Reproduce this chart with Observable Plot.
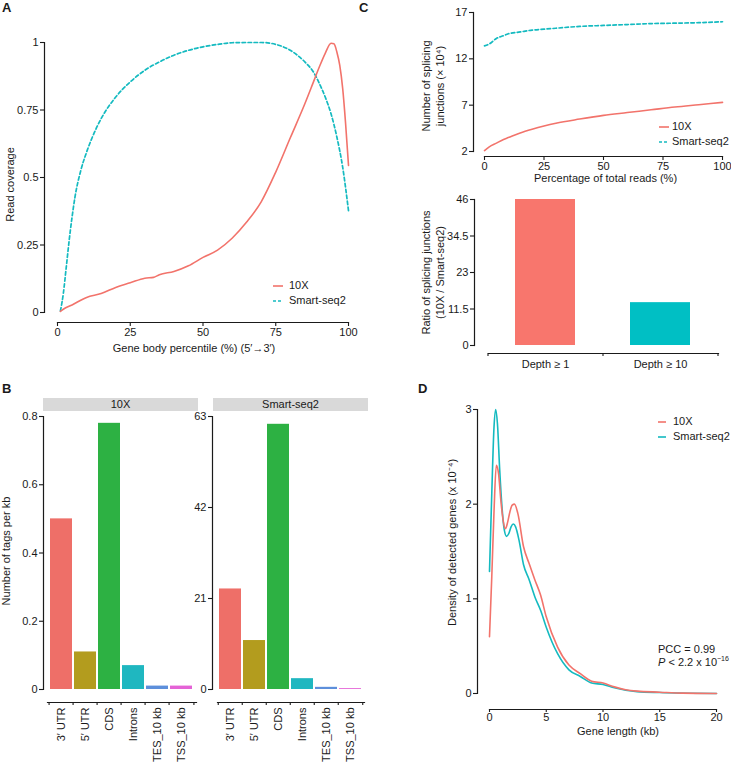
<!DOCTYPE html>
<html><head><meta charset="utf-8">
<script src="https://cdn.jsdelivr.net/npm/d3@7"></script>
<script src="https://cdn.jsdelivr.net/npm/@observablehq/plot@0.6"></script>
<style>
body{margin:0;background:#fff;}
#root{position:relative;width:731px;height:763px;overflow:hidden;font-family:"Liberation Sans",Arial,Helvetica,sans-serif;color:#1a1a1a;background:#fff;}
.plbl{position:absolute;font-weight:bold;font-size:13px;line-height:13px;}
.leg{position:absolute;font-size:11px;line-height:15px;white-space:nowrap;}
.leg div{height:15px;display:flex;align-items:center;}
.strip{position:absolute;background:#D9D9D9;font-size:11px;text-align:center;line-height:13px;height:13px;}
.note{position:absolute;font-size:11px;line-height:13px;white-space:nowrap;}
.note sup{font-size:7px;vertical-align:5px;line-height:0;}
</style></head><body><div id="root"></div>
<script>
// ---------------- DATA ----------------
// Panel A: gene body coverage
const aXTicks = [0, 25, 50, 75, 100];
const aYTicks = [0, 0.25, 0.5, 0.75, 1];
const aPct10x = [1,2,5,10,15,20,25,30,33,35,40,45,50,55,60,65,70,75,80,85,88,90,92,94,95,96,97,98,99,100];
const aCov10x = [0.004,0.012,0.028,0.056,0.07,0.093,0.11,0.127,0.13,0.14,0.152,0.173,0.204,0.231,0.275,0.335,0.41,0.52,0.647,0.773,0.855,0.91,0.96,0.997,0.995,0.965,0.915,0.83,0.70,0.545];
const aPctSmart = [1,2,3,4,5,6,8,10,12,15,20,25,30,35,40,45,50,55,60,65,70,75,80,85,88,90,92,94,96,98,100];
const aCovSmart = [0.006,0.07,0.167,0.266,0.353,0.427,0.526,0.594,0.65,0.718,0.798,0.854,0.897,0.928,0.953,0.971,0.984,0.993,0.999,1.0,1.0,0.993,0.971,0.928,0.89,0.848,0.798,0.736,0.65,0.538,0.377];

// Panel B: tags per kb
const bCats = ["3\u2032 UTR","5\u2032 UTR","CDS","Introns","TES_10 kb","TSS_10 kb"];
const bColors = ["#EE6F68","#B39C1E","#2DB143","#1FB7C0","#5D8FDB","#E463D6"];
const b10x = [0.5, 0.11, 0.78, 0.07, 0.01, 0.01];
const bSmart = [23.2, 11.3, 61.2, 2.5, 0.5, 0.2];
const b10xTicks = [0, 0.2, 0.4, 0.6, 0.8];
const bSmartTicks = [0, 21, 42, 63];
const bFacets = ["10X", "Smart-seq2"];

// Panel C top: splicing junctions vs depth
const cXTicks = [0, 25, 50, 75, 100];
const cYTicks = [2, 7, 12, 17];
const cPct = [0,2,5,8,10,15,20,25,30,40,50,60,70,80,90,100];
const c10x = [2.1,2.5,2.9,3.3,3.5,4.0,4.4,4.75,5.05,5.5,5.9,6.2,6.5,6.8,7.05,7.3];
const cSmart = [13.4,13.6,14.2,14.5,14.7,14.9,15.1,15.2,15.3,15.5,15.6,15.7,15.8,15.85,15.9,16.0];

// Panel C bottom: ratio
const cDepth = ["Depth \u2265 1", "Depth \u2265 10"];
const cRatio = [46, 13.5];
const cRatioTicks = [0, 11.5, 23, 34.5, 46];

// Panel D: gene length density
const dXTicks = [0, 5, 10, 15, 20];
const dYTicks = [0, 1, 2, 3];
const dLen10x = [0,0.2,0.4,0.6,0.8,1.0,1.2,1.4,1.6,1.8,2.0,2.2,2.5,3,3.5,4,4.5,5,6,7,8,9,10,11,12,13,15,17,20];
const d10x = [0.6,1.23,1.93,2.41,2.32,2.04,1.83,1.74,1.81,1.92,1.99,2.0,1.9,1.55,1.37,1.2,1.04,0.81,0.49,0.30,0.21,0.13,0.11,0.07,0.04,0.025,0.014,0.004,0];
const dLenSmart = [0,0.2,0.4,0.55,0.7,0.9,1.1,1.3,1.5,1.7,1.9,2.1,2.3,2.6,3,3.5,4,4.5,5,6,7,8,9,10,11,12,13,15,20];
const dSmart = [1.29,2.11,2.82,3.0,2.85,2.36,1.97,1.73,1.66,1.69,1.76,1.79,1.76,1.62,1.36,1.2,1.02,0.88,0.70,0.42,0.25,0.18,0.11,0.095,0.06,0.035,0.02,0.01,0];

const series = ["10X", "Smart-seq2"];
const RED = "#F2736B", CYAN = "#14BAC0";
const BAR_RED = "#F8766D", BAR_CYAN = "#00BFC4";

// ---------------- HELPERS ----------------
const root = document.getElementById("root");
const FONT = '"Liberation Sans", Arial, Helvetica, sans-serif';
const baseStyle = {background: "transparent", overflow: "visible", fontFamily: FONT, fontSize: "11px", color: "#1a1a1a"};
const zip = (xs, ys) => xs.map((x, i) => ({x, y: ys[i]}));
const AX = {tickSize: 4, tickPadding: 2, label: null, strokeWidth: 1.1, fontSize: 11};
const LINE_W = 1.2;
function place(node, left, top) {
  node.style.position = "absolute";
  node.style.left = left + "px";
  node.style.top = top + "px";
  root.appendChild(node);
  return node;
}
function html(cls, left, top, inner, extra) {
  const d = document.createElement("div");
  d.className = cls;
  d.innerHTML = inner;
  if (extra) Object.assign(d.style, extra);
  return place(d, left, top);
}
function legend(left, top, items, gap) {
  const rows = items.map(it => `<div><svg width="${it.w}" height="4" style="margin-right:${gap}px"><line x1="0" x2="${it.w}" y1="2" y2="2" stroke="${it.color}" stroke-width="1.6" ${it.dash ? `stroke-dasharray="${it.dash}"` : ""}/></svg>${it.label}</div>`).join("");
  html("leg", left, top, rows);
}

// ---------------- PANEL A ----------------
place(Plot.plot({
  width: 360, height: 360, marginLeft: 57, marginRight: 12, marginTop: 42, marginBottom: 48,
  style: baseStyle,
  x: {domain: [aXTicks[0], aXTicks[aXTicks.length - 1]]},
  y: {domain: [aYTicks[0], aYTicks[aYTicks.length - 1]]},
  marks: [
    Plot.frame({anchor: "left", dx: -13, strokeWidth: LINE_W}),
    Plot.frame({anchor: "bottom", dy: 10, strokeWidth: LINE_W}),
    Plot.axisY(aYTicks, {...AX, dx: -13, tickFormat: String}),
    Plot.axisX(aXTicks, {...AX, dy: 10, tickFormat: String}),
    Plot.text(["Read coverage"], {frameAnchor: "left", rotate: -90, textAnchor: "middle", dx: -47, dy: 7, fontSize: 11}),
    Plot.text(["Gene body percentile (%) (5\u2032\u21923\u2032)"], {frameAnchor: "bottom", textAnchor: "middle", dx: -9, dy: 39, fontSize: 11}),
    Plot.line(zip(aPctSmart, aCovSmart), {x: "x", y: "y", stroke: CYAN, strokeWidth: 1.7, strokeDasharray: "3.5,2.5", curve: "monotone-x"}),
    Plot.line(zip(aPct10x, aCov10x), {x: "x", y: "y", stroke: RED, strokeWidth: 1.6, curve: "monotone-x"})
  ]
}), 0, 0);
legend(273, 278, [{label: series[0], color: RED, w: 10}, {label: series[1], color: CYAN, w: 10, dash: "3,2"}], 6);

// ---------------- PANEL B ----------------
function barFacet(values, ticks, opts) {
  const step = (opts.width - opts.marginLeft - opts.marginRight) / bCats.length;
  return Plot.plot({
    width: opts.width, height: 373, marginLeft: opts.marginLeft, marginRight: opts.marginRight, marginTop: 26, marginBottom: 74,
    style: baseStyle,
    x: {domain: bCats, paddingInner: 0.08, paddingOuter: 0.04},
    y: {domain: [ticks[0], ticks[ticks.length - 1]]},
    color: {domain: bCats, range: bColors},
    marks: [
      Plot.barY(bCats.map((c, i) => ({c, v: values[i]})), {x: "c", y: "v", fill: "c"}),
      Plot.frame({anchor: "left", dx: opts.dxAxis, strokeWidth: LINE_W}),
      Plot.frame({anchor: "bottom", dy: 13, strokeWidth: LINE_W}),
      Plot.axisY(ticks, {...AX, dx: opts.dxAxis, tickFormat: String}),
      Plot.axisX(bCats, {...AX, tickSize: 3, dx: -step / 2, dy: 13, tickFormat: () => ""}),
      Plot.axisX([bCats[bCats.length - 1]], {...AX, tickSize: 3, dx: step / 2, dy: 13, tickFormat: () => ""}),
      Plot.axisX(bCats, {label: null, tickSize: 0, tickPadding: 5, tickRotate: -90, dy: 13, fontSize: 11}),
      ...(opts.title ? [Plot.text([opts.title], {frameAnchor: "left", rotate: -90, textAnchor: "middle", dx: -41, dy: -2, fontSize: 11})] : [])
    ]
  });
}
place(barFacet(b10x, b10xTicks, {width: 205, marginLeft: 47, marginRight: 9, dxAxis: -4, title: "Number of tags per kb"}), 0, 390);
place(barFacet(bSmart, bSmartTicks, {width: 200, marginLeft: 42, marginRight: 11, dxAxis: -5}), 175, 390);
html("strip", 43, 398, bFacets[0], {width: "155px"});
html("strip", 213, 398, bFacets[1], {width: "155px"});

// ---------------- PANEL C TOP ----------------
place(Plot.plot({
  width: 371, height: 190, marginLeft: 124, marginRight: 9, marginTop: 12, marginBottom: 39,
  style: baseStyle,
  x: {domain: [cXTicks[0], cXTicks[cXTicks.length - 1]]},
  y: {domain: [cYTicks[0], cYTicks[cYTicks.length - 1]]},
  marks: [
    Plot.frame({anchor: "left", dx: -11, strokeWidth: LINE_W}),
    Plot.frame({anchor: "bottom", dy: 5, strokeWidth: LINE_W}),
    Plot.axisY(cYTicks, {...AX, dx: -11, tickFormat: String}),
    Plot.axisX(cXTicks, {...AX, dy: 5, tickFormat: String}),
    Plot.text(["Number of splicing\njunctions (\u00d7 10\u2074)"], {frameAnchor: "left", rotate: -90, textAnchor: "middle", lineHeight: 1.25, dx: -52, dy: 4, fontSize: 11}),
    Plot.text(["Percentage of total reads (%)"], {frameAnchor: "bottom", textAnchor: "middle", dx: 2, dy: 30, fontSize: 11}),
    Plot.line(zip(cPct, cSmart), {x: "x", y: "y", stroke: CYAN, strokeWidth: 1.7, strokeDasharray: "3.5,2.5", curve: "monotone-x"}),
    Plot.line(zip(cPct, c10x), {x: "x", y: "y", stroke: RED, strokeWidth: 1.6, curve: "monotone-x"})
  ]
}), 360, 0);
legend(659, 119, [{label: series[0], color: RED, w: 10}, {label: series[1], color: CYAN, w: 10, dash: "3,2"}], 3);

// ---------------- PANEL C BOTTOM ----------------
(function () {
  const W = 371, ML = 128, MR = 13;
  const step = (W - ML - MR) / cDepth.length;
  place(Plot.plot({
    width: W, height: 190, marginLeft: ML, marginRight: MR, marginTop: 9, marginBottom: 35,
    style: baseStyle,
    x: {domain: cDepth, paddingInner: 0.478, paddingOuter: 0.239},
    y: {domain: [cRatioTicks[0], cRatioTicks[cRatioTicks.length - 1]]},
    marks: [
      Plot.barY(cDepth.map((c, i) => ({c, v: cRatio[i]})), {x: "c", y: "v", fill: (d, i) => [BAR_RED, BAR_CYAN][i]}),
      Plot.frame({anchor: "left", dx: -14, strokeWidth: LINE_W}),
      Plot.frame({anchor: "bottom", dy: 8, strokeWidth: LINE_W}),
      Plot.axisY(cRatioTicks, {...AX, dx: -14, tickFormat: String}),
      Plot.axisX(cDepth, {...AX, tickSize: 3, dx: -step / 2, dy: 8, tickFormat: () => ""}),
      Plot.axisX([cDepth[cDepth.length - 1]], {...AX, tickSize: 3, dx: step / 2, dy: 8, tickFormat: () => ""}),
      Plot.axisX(cDepth, {label: null, tickSize: 0, tickPadding: 7, dy: 8, fontSize: 11}),
      Plot.text(["Ratio of splicing junctions\n(10X / Smart-seq2)"], {frameAnchor: "left", rotate: -90, textAnchor: "middle", lineHeight: 1.25, dx: -56, dy: 0, fontSize: 11})
    ]
  }), 360, 190);
})();

// ---------------- PANEL D ----------------
place(Plot.plot({
  width: 371, height: 383, marginLeft: 129, marginRight: 15, marginTop: 29, marginBottom: 70,
  style: baseStyle,
  x: {domain: [dXTicks[0], dXTicks[dXTicks.length - 1]]},
  y: {domain: [dYTicks[0], dYTicks[dYTicks.length - 1]]},
  marks: [
    Plot.frame({anchor: "left", dx: -12, strokeWidth: LINE_W}),
    Plot.frame({anchor: "bottom", dy: 16, strokeWidth: LINE_W}),
    Plot.axisY(dYTicks, {...AX, dx: -12, tickFormat: String}),
    Plot.axisX(dXTicks, {...AX, tickSize: 3, tickPadding: 1, dy: 16, tickFormat: String}),
    Plot.text(["Density of detected genes (x 10\u207b\u2074)"], {frameAnchor: "left", rotate: -90, textAnchor: "middle", dx: -37, dy: -9, fontSize: 11}),
    Plot.text(["Gene length (kb)"], {frameAnchor: "bottom", textAnchor: "middle", dx: 15, dy: 41, fontSize: 11}),
    Plot.line(zip(dLenSmart, dSmart), {x: "x", y: "y", stroke: CYAN, strokeWidth: 1.6, curve: "monotone-x"}),
    Plot.line(zip(dLen10x, d10x), {x: "x", y: "y", stroke: RED, strokeWidth: 1.6, curve: "monotone-x"})
  ]
}), 360, 380);
legend(658, 414, [{label: series[0], color: RED, w: 8}, {label: series[1], color: CYAN, w: 8}], 7);
html("note", 658, 643, "PCC = 0.99<br><i>P</i> &lt; 2.2 x 10<sup>\u221216</sup>");

// ---------------- PANEL LETTERS ----------------
html("plbl", 2, 1, "A");
html("plbl", 2, 382, "B");
html("plbl", 359, 1, "C");
html("plbl", 418, 382, "D");
</script></body></html>
